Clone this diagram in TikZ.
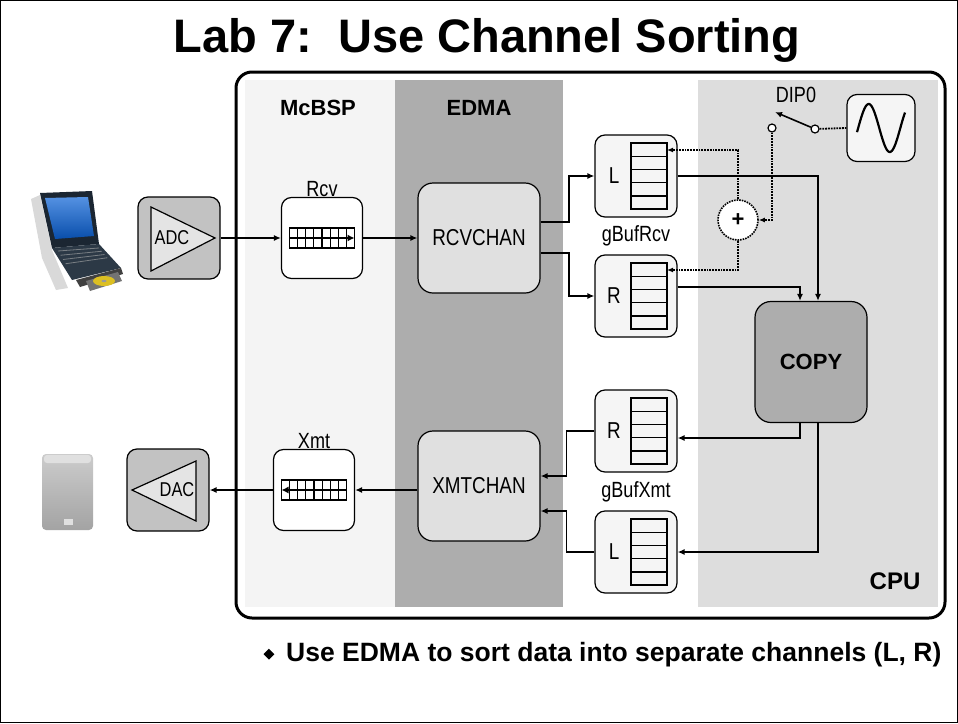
\documentclass[tikz,border=0pt]{standalone}
\usepackage{fontspec}
\setmainfont{Liberation Sans}
\newfontfamily\narrowfont[FakeStretch=0.82]{Liberation Sans}
\usetikzlibrary{arrows.meta,positioning,calc,shapes.geometric}

\definecolor{mcbspfill}{HTML}{F4F4F4}
\definecolor{edmafill}{HTML}{ADADAD}
\definecolor{cpufill}{HTML}{DDDDDD}
\definecolor{chanfill}{HTML}{E0E0E0}
\definecolor{convfill}{HTML}{C2C2C2}
\definecolor{trifill}{HTML}{E4E4E4}
\definecolor{buffill}{HTML}{F5F5F5}
\definecolor{bezel}{HTML}{1B2632}
\definecolor{screen}{HTML}{0B62D6}
\definecolor{deck}{HTML}{2C3946}

\tikzset{
  conn/.style={-{Latex[length=7pt,width=6pt]}, line width=1.8pt},
  sigline/.style={densely dotted, line width=1.8pt, -{Latex[length=6pt,width=5pt]}},
  lbl/.style={font=\narrowfont\fontsize{22}{26}\selectfont},
  head/.style={font=\bfseries\fontsize{22}{26}\selectfont},
  buf/.style={draw, line width=1.2pt, rounded corners=10pt, fill=buffill, minimum width=82pt, minimum height=82pt},
  fifobox/.style={draw, line width=1.2pt, rounded corners=10pt, fill=white, minimum width=81pt, minimum height=81pt},
  chan/.style={draw, line width=1.2pt, rounded corners=15pt, fill=chanfill, minimum width=122pt, minimum height=110pt,
    font=\narrowfont\fontsize{23}{27}\selectfont},
  conv/.style={draw, line width=1.2pt, rounded corners=10pt, fill=convfill, minimum width=82pt, minimum height=82pt},
  contact/.style={circle, draw, fill=white, line width=1.2pt, inner sep=0pt, minimum size=8pt},
  % stack of five buffer cells
  cells/.pic={
    \foreach \k in {0,...,4}
      \draw[line width=1.4pt] (-18,-33+13.2*\k) rectangle ++(36,13.2);
  },
  % serial port shift register
  fifo/.pic={
    \draw[line width=1.2pt, fill=white] (-32.5,-10) rectangle (32.5,10);
    \foreach \i in {1,...,7}
      \draw[line width=1.2pt] (-32.5+8.125*\i,-10) -- ++(0,20);
    \draw[line width=1.2pt, -{Latex[length=7pt,width=7pt]}] (-32.5,0) -- (32.5,0);
  }
}

\begin{document}
\begin{tikzpicture}[x=1pt, y=-1pt]
\useasboundingbox (0,0) rectangle (958,723);
\draw[line width=1pt] (0.5,0.5) rectangle (957.5,722.5);

\node[font=\bfseries\fontsize{47}{52}\selectfont] (title) at (487,40) {Lab 7:\ \ Use Channel Sorting};

% background bands
\fill[mcbspfill] (245,80) rectangle (395,607);
\fill[edmafill] (395,80) rectangle (563,607);
\fill[cpufill] (698,80) rectangle (938,607);
\draw[line width=3pt, rounded corners=16pt] (236,72) rectangle (945,618);
\node[head] at (318,108) {McBSP};
\node[head] at (479,108) {EDMA};
\node[head, font=\bfseries\fontsize{24}{28}\selectfont] at (895,581) {CPU};

% laptop
\begin{scope}
  \fill[black!15] (31,199) -- (40,195) -- (52,250) -- (68,288) -- (56,290) -- (42,258) -- cycle;
  \fill[bezel] (40,193) -- (92,191) -- (99,244) -- (52,248) -- cycle;
  \shade[top color=screen!70!white, bottom color=screen!80!black] (45,198) -- (88,197) -- (94,236) -- (55,239) -- cycle;
  \fill[deck] (52,248) -- (99,244) -- (121,268) -- (72,280) -- cycle;
  \foreach \r in {0,...,3}
    \draw[black!30!deck!60!white, line width=0.8pt] ($(58,251)!{\r/4}!(68,268)$) -- ($(99,248)!{\r/4}!(110,261)$);
  \fill[black!75] (76,280) -- (121,268) -- (123,274) -- (80,287) -- cycle;
  \fill[black!55] (86,281) -- (118,272) -- (122,281) -- (90,291) -- cycle;
  \fill[yellow!75!orange!85!black] (104,281) ellipse (11 and 5);
  \fill[black!40] (104,281) ellipse (2.5 and 1.2);
\end{scope}
\node[inner sep=0pt, minimum width=107pt, minimum height=95pt] (laptop) at (80,240) {};

% speaker
\begin{scope}
  \shade[top color=black!20, bottom color=black!36, rounded corners=4pt] (42,454) rectangle (93,530);
  \fill[black!12, rounded corners=3pt] (44,455) rectangle (91,463);
  \fill[white!88!black] (64,519) rectangle (73,525);
\end{scope}
\node[inner sep=0pt, minimum width=51pt, minimum height=76pt] (speaker) at (67,492) {};

% converters
\node[conv] (adc) at (179,238) {};
\draw[fill=trifill, line width=1.2pt] ([xshift=-28pt,yshift=31pt]adc.center) -- ([xshift=-28pt,yshift=-33pt]adc.center)
  -- ([xshift=36pt]adc.center) -- cycle;
\node[lbl, font=\narrowfont\fontsize{20}{24}\selectfont] at ([xshift=-7pt]adc.center) {ADC};

\node[conv] (dac) at (168,490) {};
\draw[fill=trifill, line width=1.2pt] ([xshift=28pt,yshift=29pt]dac.center) -- ([xshift=28pt,yshift=-31pt]dac.center)
  -- ([xshift=-36pt]dac.center) -- cycle;
\node[lbl, font=\narrowfont\fontsize{20}{24}\selectfont] at ([xshift=9pt]dac.center) {DAC};

% McBSP registers
\node[fifobox] (rcv) at (322,238) {};
\pic at (rcv) {fifo};
\node[lbl, above=-3pt of rcv] {Rcv};
\node[fifobox] (xmt) at (314,490) {};
\pic[rotate=180] at (xmt) {fifo};
\node[lbl, above=-3pt of xmt] {Xmt};

% EDMA channels
\node[chan] (rcvchan) at (479,238) {RCVCHAN};
\node[chan] (xmtchan) at (479,486) {XMTCHAN};

% ping buffers
\node[buf] (rcvL) at (636,176) {};
\node[buf] (rcvR) at (636,296) {};
\node[buf] (xmtR) at (636,431) {};
\node[buf] (xmtL) at (636,552) {};
\foreach \b/\t in {rcvL/L, rcvR/R, xmtR/R, xmtL/L} {
  \node[lbl, font=\narrowfont\fontsize{23}{27}\selectfont] at ([xshift=-22pt]\b.center) {\t};
  \pic at ([xshift=13pt]\b.center) {cells};
}
\node[lbl] at ($(rcvL.south)!0.5!(rcvR.north)$) {gBufRcv};
\node[lbl] at ($(xmtR.south)!0.5!(xmtL.north)$) {gBufXmt};

% CPU side
\node[draw, line width=1.2pt, rounded corners=16pt, fill=edmafill, minimum width=112pt, minimum height=121pt,
  font=\bfseries\fontsize{22}{26}\selectfont] (copy) at (811,362) {COPY};
\node[draw, line width=1.2pt, rounded corners=10pt, fill=buffill, minimum width=68pt, minimum height=67pt] (sine) at (881,128) {};
\draw[line width=2.2pt] plot[domain=-10:400, samples=60, smooth] ({857+(\x+10)/410*48}, {128-24*sin(\x)});
\node[circle, draw, densely dotted, line width=1.6pt, fill=white, minimum size=40pt, inner sep=0pt,
  font=\bfseries\fontsize{22}{26}\selectfont] (sum) at (738,220) {+};

% DIP switch
\node[contact] (dipA) at (772,128) {};
\node[contact] (dipB) at (815,129) {};
\coordinate (dipArm) at (775,112);
\node[lbl] (dip) at (796,95) {DIP0};
\draw[-{Latex[length=7pt,width=6pt]}, line width=1.6pt] (dipB) -- (dipArm);
\draw[densely dotted, line width=1.8pt] (dipB) -- (sine.west);

% data path
\draw[conn] (adc) -- (rcv);
\draw[conn] (rcv) -- (rcvchan);
\draw[conn] ([yshift=16pt]rcvchan.east) -- ++(28,0) |- (rcvL.west);
\draw[conn] ([yshift=-15pt]rcvchan.east) -- ++(28,0) |- (rcvR.west);
\draw[conn] (rcvL.east) -| ([xshift=7pt]copy.north);
\draw[conn] ([yshift=9pt]rcvR.east) -| ([xshift=-11pt]copy.north);
\draw[conn] ([xshift=-11pt]copy.south) |- ([yshift=-7pt]xmtR.east);
\draw[conn] ([xshift=7pt]copy.south) |- (xmtL.east);
\draw[conn] (xmtR.west) -- ++(-28,0) |- ([yshift=10pt]xmtchan.east);
\draw[conn] (xmtL.west) -- ++(-28,0) |- ([yshift=-25pt]xmtchan.east);
\draw[conn] (xmtchan.west |- xmt.east) -- (xmt.east);
\draw[conn] (xmt) -- (dac);

% noise injection
\coordinate (inL) at ([xshift=31pt,yshift=26pt]rcvL.center);
\coordinate (inR) at ([xshift=31pt,yshift=26pt]rcvR.center);
\draw[sigline] (sum.north) |- (inL);
\draw[sigline] (sum.south) |- (inR);
\draw[sigline] (dipA.south) |- (sum.east);

% note
\node[anchor=base east, font=\bfseries\fontsize{26.5}{30}\selectfont] (note) at (945,661)
  {Use EDMA to sort data into separate channels (L, R)};
\node[diamond, fill, inner sep=0pt, minimum size=11pt, left=8pt of note] (bullet) {};
\end{tikzpicture}
\end{document}
